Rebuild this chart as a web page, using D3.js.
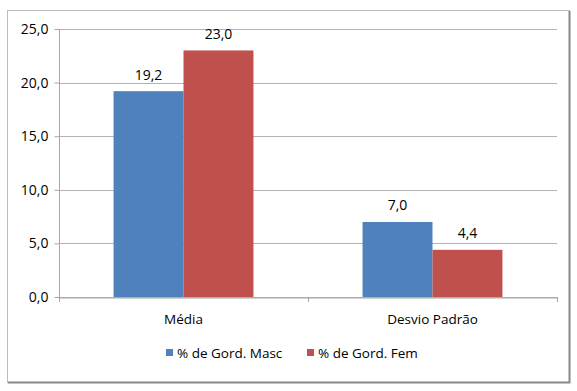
<!DOCTYPE html>
<html><head><meta charset="utf-8">
<script src="https://cdn.jsdelivr.net/npm/d3@7"></script>
<style>body{margin:0;background:#fff}svg{display:block}text{font-family:"Open Sans","Liberation Sans",sans-serif;fill:#000}</style>
</head><body><svg id="c" width="577" height="391"></svg>
<script>
const categories = ["Média", "Desvio Padrão"];
const seriesNames = ["% de Gord. Masc", "% de Gord. Fem"];
const masc = [19.2, 7.0];
const fem = [23.0, 4.4];
const yTicks = [0, 5, 10, 15, 20, 25];
const colors = ["#4F81BD", "#C0504D"];

(function(){
const svg = d3.select("#c");
svg.append("rect").attr("x",7.5).attr("y",10.5).attr("width",562).attr("height",372)
  .attr("fill","#fff").attr("stroke","#bbb").attr("stroke-width",1);
svg.append("path").attr("d","M569.5,11 V382.5 H8").attr("fill","none").attr("stroke","#888").attr("stroke-width",2);

const pLeft=59, pRight=557, pTop=29, pBottom=297;
const y = d3.scaleLinear().domain([0,25]).range([pBottom,pTop]);
const x0 = d3.scaleBand().domain(categories).range([pLeft,pRight]).paddingInner(0).paddingOuter(0);
const x1 = d3.scaleBand().domain([0,1]).range([0,x0.bandwidth()]).paddingInner(0).paddingOuter(0.78);

const fmt = v => d3.format(".1f")(v).replace(".", ",");

svg.append("g").selectAll("line").data(yTicks).join("line")
  .attr("x1",pLeft).attr("x2",pRight).attr("y1",d=>Math.round(y(d))+0.5).attr("y2",d=>Math.round(y(d))+0.5)
  .attr("stroke","#b3b3b3").attr("stroke-width",1);

const ya = svg.append("g").attr("transform",`translate(${pLeft+0.5},0)`)
  .call(d3.axisLeft(y).tickValues(yTicks).tickFormat(fmt).tickSize(5).tickPadding(6));
ya.select(".domain").attr("stroke","#a6a6a6").attr("d",`M0,${pTop}V${pBottom}`);
ya.selectAll(".tick line").attr("stroke","#a6a6a6");
ya.selectAll(".tick text").attr("font-size",14).attr("font-family","Open Sans, sans-serif").style("fill","#000");

const xa = svg.append("g").attr("transform",`translate(0,${Math.round(pBottom)+0.5})`)
  .call(d3.axisBottom(x0).tickSize(0).tickPadding(17));
xa.select(".domain").attr("stroke","#a6a6a6");
xa.selectAll(".tick text").attr("font-size",13.5).attr("font-family","Open Sans, sans-serif").style("fill","#000");
svg.append("g").selectAll("line").data([pLeft, pLeft + x0.bandwidth(), pRight]).join("line")
  .attr("x1",d=>Math.round(d)+0.5).attr("x2",d=>Math.round(d)+0.5).attr("y1",pBottom).attr("y2",pBottom+5)
  .attr("stroke","#a6a6a6");

const data = categories.map((c,i)=>({c, vals:[masc[i], fem[i]]}));
const g = svg.append("g");
data.forEach(d=>{
  d.vals.forEach((v,j)=>{
    const bx = x0(d.c)+x1(j);
    g.append("rect").attr("x",bx).attr("y",y(v)).attr("width",x1.bandwidth()).attr("height",pBottom-y(v))
      .attr("fill",colors[j]);
    g.append("text").attr("x",bx+x1.bandwidth()/2).attr("y",y(v)-11.5).attr("text-anchor","middle")
      .attr("font-size",14).text(fmt(v));
  });
});

const legX = [166, 307];
seriesNames.forEach((n,i)=>{
  svg.append("rect").attr("x",legX[i]).attr("y",349).attr("width",7).attr("height",7).attr("fill",colors[i]);
  svg.append("text").attr("x",legX[i]+11).attr("y",357.5).attr("font-size",13.5).text(n);
});
})();
</script></body></html>
